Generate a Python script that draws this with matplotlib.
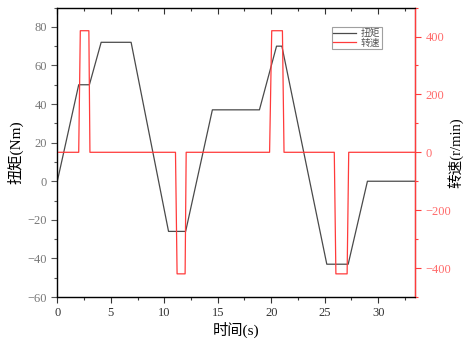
import matplotlib
matplotlib.use("Agg")
import matplotlib.pyplot as plt
from matplotlib.ticker import MultipleLocator

plt.rcParams['font.family'] = ['Liberation Serif', 'Noto Sans CJK SC']

# data
torque_t = [0, 2, 3, 4.1, 6.9, 10.4, 12, 14.5, 18.9, 20.5, 21, 25.2, 27.2, 29, 33.5]
torque_v = [0, 50, 50, 72, 72, -26, -26, 37, 37, 70, 70, -43, -43, 0, 0]
speed_t = [0, 2.0, 2.15, 2.95, 3.05, 11.05, 11.2, 11.95, 12.05, 19.85, 20.05,
           21.05, 21.2, 25.9, 26.05, 27.1, 27.25, 33.5]
speed_v = [0, 0, 420, 420, 0, 0, -420, -420, 0, 0, 420, 420, 0, 0, -420, -420, 0, 0]
x_ticks = [0, 5, 10, 15, 20, 25, 30]
torque_ticks = [-60, -40, -20, 0, 20, 40, 60, 80]
speed_ticks = [-400, -200, 0, 200, 400]

fig = plt.figure(figsize=(4.66, 3.44), dpi=100)
ax = fig.add_axes([0.123, 0.1366, 0.7676, 0.8414])
ax2 = ax.twinx()

black = '#4a4a4a'
red = '#ff3b3b'
l1, = ax.plot(torque_t, torque_v, color=black, lw=0.9, label='扭矩')
l2, = ax2.plot(speed_t, speed_v, color=red, lw=0.9, label='转速')

ax.set_xlim(0, 33.45)
ax.set_ylim(-60, 90)
ax2.set_ylim(-500, 500)

ax.set_xticks(x_ticks)
ax.set_yticks(torque_ticks)
ax2.set_yticks(speed_ticks)
ax.xaxis.set_minor_locator(MultipleLocator(2.5))
ax.yaxis.set_minor_locator(MultipleLocator(10))
ax2.yaxis.set_minor_locator(MultipleLocator(100))

ax.tick_params(axis='x', which='both', direction='out', top=True, labeltop=False,
               colors='#333333', labelsize=9)
ax.tick_params(axis='x', which='major', length=4, width=0.8)
ax.tick_params(axis='x', which='minor', length=2.5, width=0.8)
ax.tick_params(axis='y', which='major', direction='out', length=4, width=0.8,
               colors='#555555', labelcolor='#777777', labelsize=9)
ax.tick_params(axis='y', which='minor', direction='out', length=2.5, width=0.8, colors='#555555')
ax2.tick_params(axis='y', which='major', direction='out', length=4, width=0.8,
                colors=red, labelcolor='#ff6a6a', labelsize=9)
ax2.tick_params(axis='y', which='minor', direction='out', length=2.5, width=0.8, colors=red)
# top ticks point inward
for t in ax.xaxis.get_major_ticks() + ax.xaxis.get_minor_ticks():
    t.tick2line.set_marker(matplotlib.lines.TICKDOWN)

for s in ['left', 'bottom', 'top']:
    ax.spines[s].set_color('#333333')
    ax.spines[s].set_linewidth(1.0)
ax2.spines['right'].set_color(red)
ax2.spines['right'].set_linewidth(1.0)

ax.set_xlabel('时间(s)', fontsize=11, labelpad=2)
ax.set_ylabel('扭矩(Nm)', fontsize=11, va='center')
ax.yaxis.set_label_coords(-0.118, 0.5)
ax2.set_ylabel('转速(r/min)', fontsize=10.5, va='center')
ax2.yaxis.set_label_coords(1.112, 0.5)

leg = ax2.legend([l1, l2], ['扭矩', '转速'], loc='upper left',
                 bbox_to_anchor=(332 / 466, 1 - 27 / 344), bbox_transform=fig.transFigure,
                 fontsize=7, frameon=True, fancybox=False, handlelength=2.3,
                 handletextpad=0.5, borderpad=0.15, labelspacing=0.05, borderaxespad=0)
leg.get_frame().set_edgecolor('#888888')
leg.get_frame().set_linewidth(0.8)
for t in leg.get_texts():
    t.set_color('#555555')

fig.savefig('out.png', dpi=100)
